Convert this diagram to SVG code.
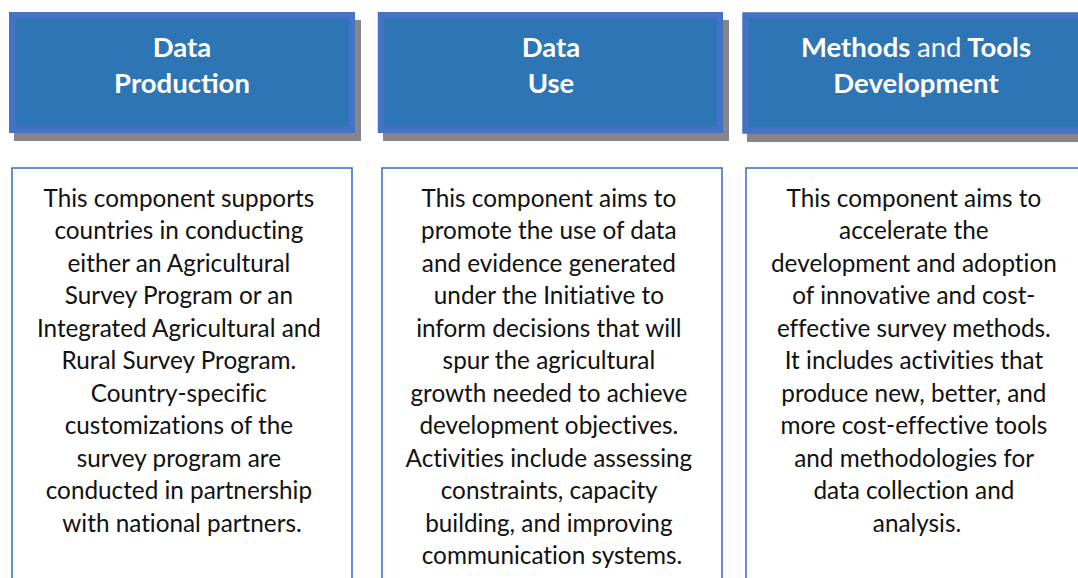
<svg xmlns="http://www.w3.org/2000/svg" width="1078" height="578" viewBox="0 0 1078 578">
<style>
.shadow{fill:#868686}
.head{fill:#2E75B6;stroke:#4472C4;stroke-width:6.5}
.card{fill:#ffffff;stroke:#4472C4;stroke-width:1.6}
.ht{font-family:Lato,"Liberation Sans",sans-serif;font-size:27.5px;font-weight:bold;fill:#ffffff;text-anchor:middle}
.ht .n{font-weight:normal}
.bt{font-family:Lato,"Liberation Sans",sans-serif;font-size:24.3px;fill:#111111;text-anchor:middle;font-variant-ligatures:none}
</style>
<rect width="1078" height="578" fill="#ffffff"/>
<g id="header-production">
<rect class="shadow" x="14" y="20" width="347" height="121"/>
<rect class="head" x="12.25" y="15.25" width="339.5" height="114.5"/>
<text class="ht" x="182" y="56.7">Data</text>
<text class="ht" x="182" y="92.7">Production</text>
</g>
<g id="header-use">
<rect class="shadow" x="383" y="20" width="346" height="121"/>
<rect class="head" x="381" y="15.25" width="338.8" height="114.5"/>
<text class="ht" x="551" y="56.7">Data</text>
<text class="ht" x="551" y="92.7">Use</text>
</g>
<g id="header-methods">
<rect class="shadow" x="747" y="21" width="346" height="121"/>
<rect class="head" x="745.5" y="15.5" width="340" height="115"/>
<text class="ht" x="916" y="56.7">Methods <tspan class="n">and</tspan> Tools</text>
<text class="ht" x="916" y="92.7">Development</text>
</g>
<g id="card-production">
<rect class="card" x="12" y="168" width="340" height="430"/>
<text class="bt">
<tspan x="182" y="206.7">This component supports</tspan>
<tspan x="182" y="239.2">countries in conducting</tspan>
<tspan x="182" y="271.7">either an Agricultural</tspan>
<tspan x="182" y="304.2">Survey Program or an</tspan>
<tspan x="182" y="336.7">Integrated Agricultural and</tspan>
<tspan x="182" y="369.2">Rural Survey Program.</tspan>
<tspan x="182" y="401.7">Country-specific</tspan>
<tspan x="182" y="434.2">customizations of the</tspan>
<tspan x="182" y="466.7">survey program are</tspan>
<tspan x="182" y="499.2">conducted in partnership</tspan>
<tspan x="182" y="531.7">with national partners.</tspan>
</text>
</g>
<g id="card-use">
<rect class="card" x="382" y="168" width="340" height="430"/>
<text class="bt">
<tspan x="552" y="206.7">This component aims to</tspan>
<tspan x="552" y="239.2">promote the use of data</tspan>
<tspan x="552" y="271.7">and evidence generated</tspan>
<tspan x="552" y="304.2">under the Initiative to</tspan>
<tspan x="552" y="336.7">inform decisions that will</tspan>
<tspan x="552" y="369.2">spur the agricultural</tspan>
<tspan x="552" y="401.7">growth needed to achieve</tspan>
<tspan x="552" y="434.2">development objectives.</tspan>
<tspan x="552" y="466.7">Activities include assessing</tspan>
<tspan x="552" y="499.2">constraints, capacity</tspan>
<tspan x="552" y="531.7">building, and improving</tspan>
<tspan x="552" y="564.2">communication systems.</tspan>
</text>
</g>
<g id="card-methods">
<rect class="card" x="746" y="168" width="342" height="430"/>
<text class="bt">
<tspan x="917" y="206.7">This component aims to</tspan>
<tspan x="917" y="239.2">accelerate the</tspan>
<tspan x="917" y="271.7">development and adoption</tspan>
<tspan x="917" y="304.2">of innovative and cost-</tspan>
<tspan x="917" y="336.7">effective survey methods.</tspan>
<tspan x="917" y="369.2">It includes activities that</tspan>
<tspan x="917" y="401.7">produce new, better, and</tspan>
<tspan x="917" y="434.2">more cost-effective tools</tspan>
<tspan x="917" y="466.7">and methodologies for</tspan>
<tspan x="917" y="499.2">data collection and</tspan>
<tspan x="917" y="531.7">analysis.</tspan>
</text>
</g>
</svg>
